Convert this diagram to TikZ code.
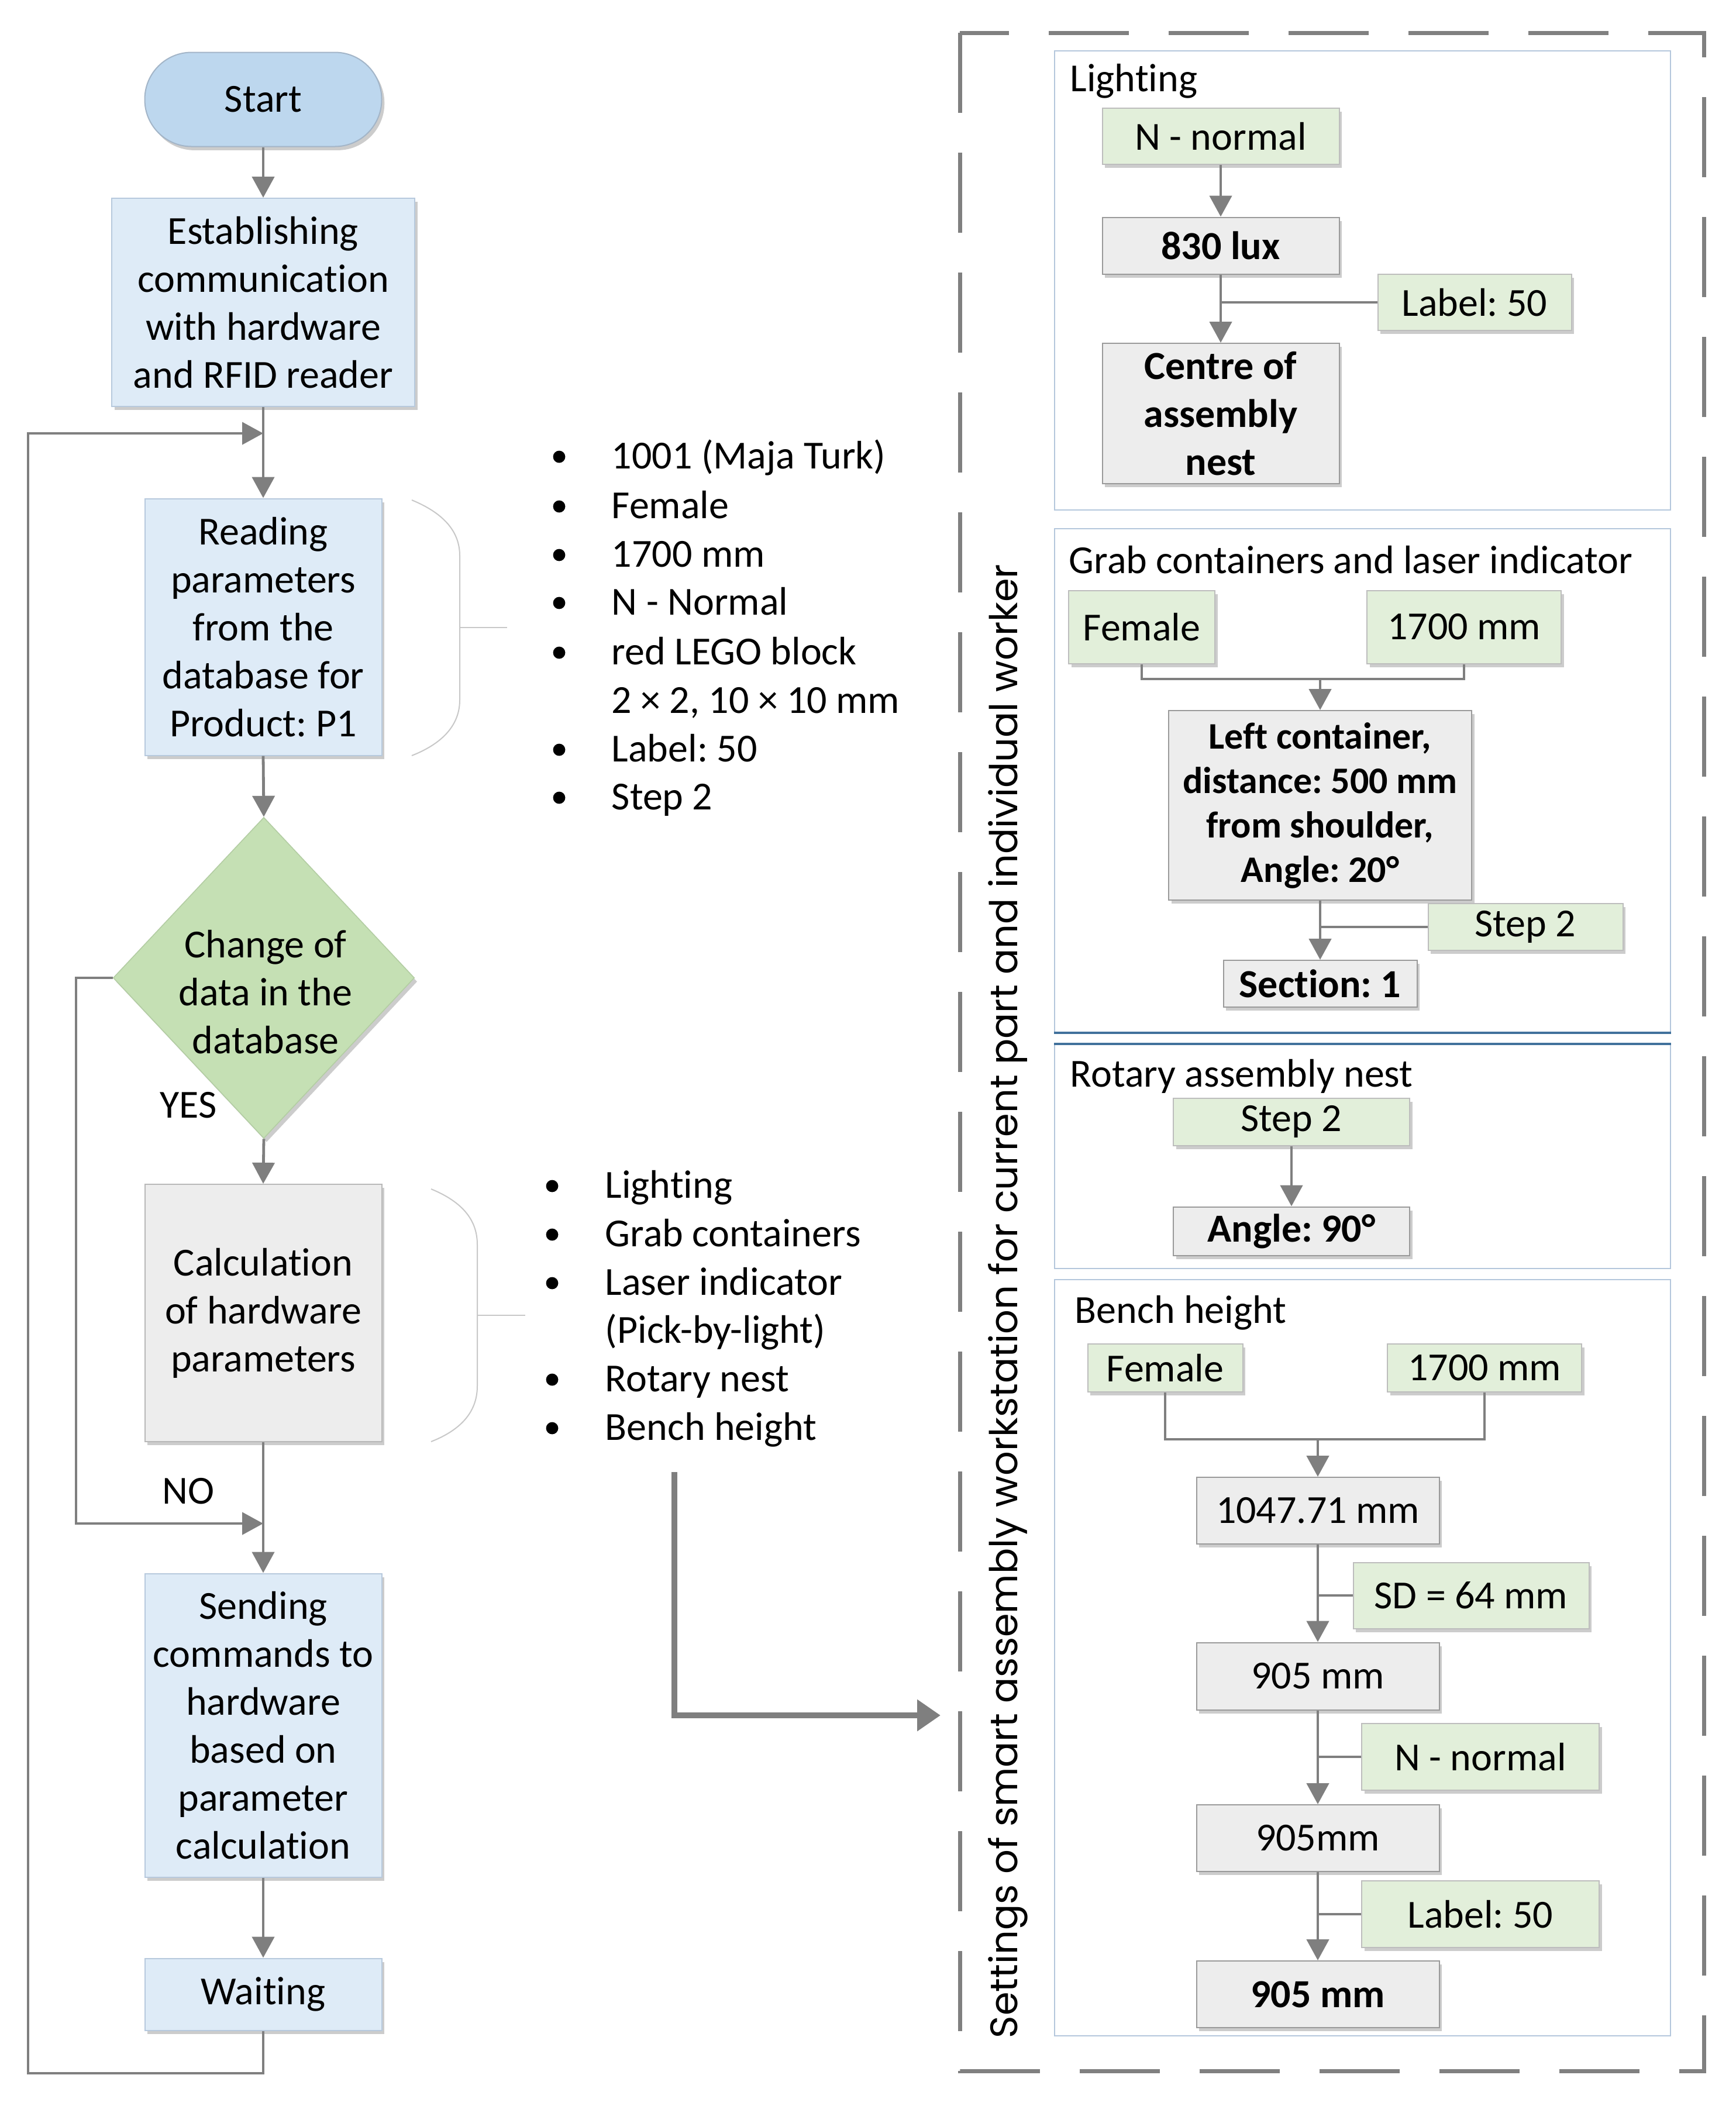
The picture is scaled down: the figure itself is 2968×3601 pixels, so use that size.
\documentclass[tikz,border=0pt]{standalone}
\usepackage{graphicx}
\usepackage{fontspec}
\setmainfont{Carlito}[Ligatures=NoCommon]
\newfontfamily\vfont{Poppins}
\usetikzlibrary{arrows.meta,shapes.geometric,shadows,calc}
\definecolor{connc}{HTML}{7F7F7F}
\definecolor{bluefill}{HTML}{DEEBF7}
\definecolor{blueedge}{HTML}{B7C9DD}
\definecolor{startfill}{HTML}{BDD7EE}
\definecolor{startedge}{HTML}{A3B5C8}
\definecolor{diafill}{HTML}{C5E0B4}
\definecolor{diaedge}{HTML}{B3CDA3}
\definecolor{greyfill}{HTML}{EDEDED}
\definecolor{greyedge}{HTML}{9A9A9A}
\definecolor{greenfill}{HTML}{E2EFDA}
\definecolor{greenedge}{HTML}{BDBDBD}
\definecolor{panelc}{HTML}{B4C7DC}
\definecolor{paneldark}{HTML}{41719C}
\definecolor{dashc}{HTML}{808080}
\definecolor{bracec}{HTML}{C8C8C8}
\frenchspacing
\begin{document}
\begin{tikzpicture}[x=0.25pt,y=-0.25pt,
  txt/.style={font=\fontsize{17pt}{20.5pt}\selectfont},
  boldtxt/.style={font=\fontsize{17pt}{20.5pt}\selectfont\bfseries},
  sh/.style={drop shadow={shadow xshift=1.2pt,shadow yshift=-1.6pt,opacity=0.2,fill=black}},
  box/.style={txt,draw,line width=0.5pt,inner sep=0pt,align=center,sh},
  bluebox/.style={box,fill=bluefill,draw=blueedge},
  startst/.style={box,fill=startfill,draw=startedge,rounded corners=20pt},
  greybox/.style={box,fill=greyfill,draw=greyedge},
  greenbox/.style={box,fill=greenfill,draw=greenedge},
  diast/.style={diamond,fill=diafill,draw=diaedge,line width=0.4pt,inner sep=0pt,
    minimum width=128.75pt,minimum height=137.25pt,sh},
  panelbox/.style={draw=panelc,line width=0.5pt,inner sep=0pt},
  item/.style={txt,anchor=base west,inner sep=0pt},
  ptitle/.style={txt,anchor=base west,inner sep=0pt},
  connst/.style={draw=connc,line width=1.2pt},
  arr/.style={connst,-{Triangle[length=9pt,width=9.5pt]}},
  bigarr/.style={draw=connc,line width=2.6pt,-{Triangle[length=10pt,width=13pt]}},
  bracest/.style={draw=bracec,line width=0.5pt},
  dashst/.style={draw=dashc,line width=1.75pt,dash pattern=on 34.25pt off 17pt},
]
\useasboundingbox (0,0) rectangle (2968,3601);

% ---------- right panels ----------
\node[panelbox,minimum width=263.25pt,minimum height=196.25pt] (p1) at (2329.5,479.5) {};
\node[panelbox,minimum width=263.25pt,minimum height=215.25pt] (p2) at (2329.5,1334.5) {};
\node[panelbox,minimum width=263.25pt,minimum height=95.75pt] (p3) at (2329.5,1977.5) {};
\node[panelbox,minimum width=263.25pt,minimum height=323.25pt] (p4) at (2329.5,2834.5) {};
\draw[paneldark,line width=0.8pt] (p2.south west) -- (p2.south east);
\draw[paneldark,line width=0.8pt] (p3.north west) -- (p3.north east);

% outer dashed frame
\draw[dashst] (1641,56) -- (1641,3541) -- (2913,3541) -- (2913,56) -- cycle;

% vertical label
\node[rotate=90,inner sep=0pt] (vlabel) at (1723,2225)
  {\resizebox{630pt}{!}{\vfont Settings of smart assembly workstation for current part and individual worker}};

% ---------- left flow ----------
\node[startst,minimum width=101.25pt,minimum height=40.25pt] (start) at (450,170) {Start};
\node[bluebox,minimum width=129.5pt,minimum height=89pt] (estab) at (450,517)
  {Establishing\\communication\\with hardware\\and RFID reader};
\node[bluebox,minimum width=101.25pt,minimum height=109.75pt] (read) at (450,1072)
  {Reading\\parameters\\from the\\database for\\Product: P1};
\node[diast] (dia) at (451,1672) {};
\node[txt,align=center,inner sep=0pt] (diatext) at (454,1696) {Change of\\data in the\\database};
\node[greybox,draw=greyedge!70,minimum width=101.25pt,minimum height=110pt] (calc) at (450,2245)
  {Calculation\\of hardware\\parameters};
\node[bluebox,minimum width=101.25pt,minimum height=129.75pt] (send) at (450,2950)
  {Sending\\commands to\\hardware\\based on\\parameter\\calculation};
\node[bluebox,minimum width=101.25pt,minimum height=30.75pt] (wait) at (450,3410) {Waiting};
\node[txt,inner sep=0pt] (yes) at (322,1890) {YES};
\node[txt,inner sep=0pt] (no) at (322,2550) {NO};

\coordinate (loopbl) at (48,3545);
\coordinate (looptl) at (48,741);
\coordinate (loopin) at (450,741);
\coordinate (nobl) at (130,2605);
\coordinate (noin) at (450,2605);

\draw[arr] (start.south) -- (estab.north);
\draw[arr] (estab.south) -- (read.north);
\draw[arr] (read.south) -- (dia.north);
\draw[arr] (dia.south) -- (calc.north);
\draw[arr] (calc.south) -- (send.north);
\draw[arr] (send.south) -- (wait.north);
\draw[arr] (wait.south) |- (loopbl) -- (looptl) -- (loopin);
\draw[arr] (dia.west) -| (nobl) -- (noin);

% braces
\draw[bracest] (704,855) .. controls (760,878) and (786,910) .. (786,950) -- (786,1197)
  .. controls (786,1237) and (760,1270) .. (704,1292);
\draw[bracest] (786,1073) -- (867,1073);
\draw[bracest] (737,2033) .. controls (793,2056) and (816,2088) .. (816,2128) -- (816,2370)
  .. controls (816,2410) and (793,2443) .. (737,2465);
\draw[bracest] (816,2249) -- (898,2249);

% bullet list 1
\node[item] (i1) at (1045,801) {1001 (Maja Turk)};
\node[item] (i2) at (1045,886) {Female};
\node[item] (i3) at (1045,969) {1700 mm};
\node[item] (i4) at (1045,1051) {N - Normal};
\node[item] (i5) at (1045,1136) {red LEGO block};
\node[item] (i6) at (1045,1219) {2 × 2, 10 × 10 mm};
\node[item] (i7) at (1045,1302) {Label: 50};
\node[item] (i8) at (1045,1384) {Step 2};
\foreach \yy in {781,866,949,1031,1116,1282,1364}
  \fill (956,\yy) circle[radius=2.6pt];

% bullet list 2
\node[item] (j1) at (1034,2048) {Lighting};
\node[item] (j2) at (1034,2131) {Grab containers};
\node[item] (j3) at (1034,2214) {Laser indicator};
\node[item] (j4) at (1034,2296) {(Pick-by-light)};
\node[item] (j5) at (1034,2379) {Rotary nest};
\node[item] (j6) at (1034,2462) {Bench height};
\foreach \yy in {2028,2111,2194,2359,2442}
  \fill (944,\yy) circle[radius=2.6pt];

\coordinate (bigs) at (1153,2517);
\coordinate (bige) at (1608,2933);
\draw[bigarr] (bigs) |- (bige);

% ---------- panel 1: Lighting ----------
\node[ptitle] (t1) at (1829,156) {Lighting};
\node[greenbox,minimum width=101.25pt,minimum height=24pt] (ln) at (2087,233) {N - normal};
\node[greybox,boldtxt,minimum width=101.25pt,minimum height=24.25pt] (lux) at (2087,420) {830 lux};
\node[greenbox,minimum width=82.75pt,minimum height=24pt] (llab) at (2521,517) {Label: 50};
\node[greybox,boldtxt,minimum width=101.25pt,minimum height=60pt] (lcen) at (2087,707) {Centre of\\assembly\\nest};
\draw[arr] (ln.south) -- (lux.north);
\draw[arr] (lux.south) -- (lcen.north);
\draw[connst] (llab.west) -- (llab.west -| lux.south);

% ---------- panel 2: Grab ----------
\node[ptitle] (t2) at (1827,980) {Grab containers and laser indicator};
\node[greenbox,minimum width=62.5pt,minimum height=31.25pt] (gf) at (1952,1072) {Female};
\node[greenbox,minimum width=83pt,minimum height=31.25pt] (g17) at (2503,1072) {1700 mm};
\coordinate (gj) at (2257,1161);
\node[greybox,font=\fontsize{16pt}{19pt}\selectfont\bfseries,minimum width=129.5pt,minimum height=81pt] (gleft) at (2257,1377)
  {Left container,\\distance: 500 mm\\from shoulder,\\Angle: 20°};
\node[greenbox,minimum width=83.25pt,minimum height=20pt] (gstep) at (2608,1585) {Step 2};
\node[greybox,boldtxt,minimum width=82.75pt,minimum height=20pt] (gsec) at (2257,1682) {Section: 1};
\draw[connst] (gf.south) |- (gj) -| (g17.south);
\draw[arr] (gj) -- (gleft.north);
\draw[arr] (gleft.south) -- (gsec.north);
\draw[connst] (gstep.west) -- (gstep.west -| gleft.south);

% ---------- panel 3: Rotary ----------
\node[ptitle] (t3) at (1829,1858) {Rotary assembly nest};
\node[greenbox,minimum width=101pt,minimum height=20.25pt] (rstep) at (2208,1918) {Step 2};
\node[greybox,boldtxt,minimum width=101pt,minimum height=20.75pt] (rang) at (2208,2105) {Angle: 90°};
\draw[arr] (rstep.south) -- (rang.north);

% ---------- panel 4: Bench ----------
\node[ptitle] (t4) at (1837,2262) {Bench height};
\node[greenbox,minimum width=66.25pt,minimum height=20.5pt] (bf) at (1992,2339) {Female};
\node[greenbox,minimum width=83pt,minimum height=20.5pt] (b17) at (2538,2339) {1700 mm};
\coordinate (bj) at (2253,2461);
\node[greybox,minimum width=103.75pt,minimum height=28.5pt] (b1) at (2253,2583) {1047.71 mm};
\node[greenbox,minimum width=100.75pt,minimum height=28.25pt] (bsd) at (2515,2728) {SD = 64 mm};
\node[greybox,minimum width=103.75pt,minimum height=28.75pt] (b2) at (2253,2866) {905 mm};
\node[greenbox,minimum width=101.5pt,minimum height=28.5pt] (bn) at (2531,3004) {N - normal};
\node[greybox,minimum width=103.75pt,minimum height=28.5pt] (b3) at (2253,3143) {905mm};
\node[greenbox,minimum width=101.5pt,minimum height=28.5pt] (blab) at (2531,3273) {Label: 50};
\node[greybox,boldtxt,minimum width=103.75pt,minimum height=28.5pt] (b4) at (2253,3410) {905 mm};
\draw[connst] (bf.south) |- (bj) -| (b17.south);
\draw[arr] (bj) -- (b1.north);
\draw[arr] (b1.south) -- (b2.north);
\draw[connst] (bsd.west) -- (bsd.west -| b1.south);
\draw[arr] (b2.south) -- (b3.north);
\draw[connst] (bn.west) -- (bn.west -| b2.south);
\draw[arr] (b3.south) -- (b4.north);
\draw[connst] (blab.west) -- (blab.west -| b3.south);
\end{tikzpicture}
\end{document}
